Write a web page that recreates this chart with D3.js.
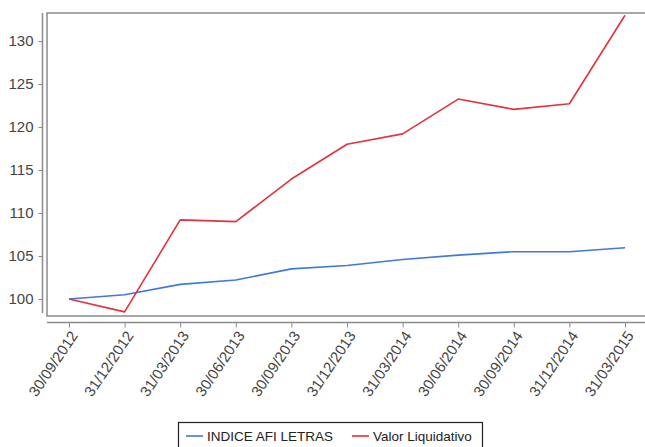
<!DOCTYPE html>
<html>
<head>
<meta charset="utf-8">
<script src="https://cdn.jsdelivr.net/npm/d3@7"></script>
<style>
  html, body { margin: 0; padding: 0; background: #fff; overflow: hidden; }
  svg { display: block; font-family: 'Liberation Sans', Arial, sans-serif; }
</style>
</head>
<body>
<svg width="645" height="447"></svg>
<script>
const dates = ['30/09/2012', '31/12/2012', '31/03/2013', '30/06/2013', '30/09/2013', '31/12/2013',
  '31/03/2014', '30/06/2014', '30/09/2014', '31/12/2014', '31/03/2015']
const indiceAfi = [100, 100.5, 101.7, 102.2, 103.5, 103.9, 104.6, 105.1, 105.5, 105.5, 105.95]
const valorLiq = [100, 98.5, 109.2, 109.0, 113.95, 118.0, 119.2, 123.25, 122.05, 122.7, 133.0]
const yTicks = [100, 105, 110, 115, 120, 125, 130]

const series = [
  { name: 'INDICE AFI LETRAS', values: indiceAfi, color: '#3f78de' },
  { name: 'Valor Liquidativo', values: valorLiq, color: '#e4323d' },
]

const svg = d3.select('svg')
const plot = { left: 47, top: 13, right: 700, bottom: 316 }

const x = d3.scalePoint().domain(dates).range([69, 625])
const y = d3.scaleLinear().domain([98.02, 133.26]).range([plot.bottom, plot.top])

// plot border
svg.append('rect')
  .attr('x', plot.left).attr('y', plot.top)
  .attr('width', plot.right - plot.left).attr('height', plot.bottom - plot.top)
  .attr('fill', 'none').attr('stroke', '#8a8a8a').attr('stroke-width', 1.5)

// y axis (offset from plot)
const yAxis = svg.append('g')
  .attr('transform', 'translate(42.5,0)')
  .call(d3.axisLeft(y).tickValues(yTicks).tickSize(4).tickPadding(5).tickSizeOuter(0))
yAxis.select('.domain').attr('stroke', '#8a8a8a').attr('stroke-width', 1.5)
  .attr('d', `M0,${plot.top}V${plot.bottom - 3}`)
yAxis.selectAll('.tick line').attr('stroke', '#8a8a8a')
yAxis.selectAll('.tick text').attr('fill', '#444').style('font-size', '15px')
  .style('font-family', "'Liberation Sans', Arial, sans-serif")

// x axis (offset from plot)
const xAxis = svg.append('g')
  .attr('transform', 'translate(0,322.5)')
  .call(d3.axisBottom(x).tickSize(5).tickSizeOuter(0))
xAxis.select('.domain').attr('stroke', '#8a8a8a').attr('stroke-width', 1.5)
  .attr('d', `M${plot.left},0H${plot.right}`)
xAxis.selectAll('.tick line').attr('stroke', '#8a8a8a')
xAxis.selectAll('.tick text')
  .attr('fill', '#444').style('font-size', '15px')
  .style('font-family', "'Liberation Sans', Arial, sans-serif")
  .attr('text-anchor', 'end')
  .attr('dy', null).attr('y', 0)
  .attr('transform', 'translate(9,13) rotate(-56)')

// lines
const line = d3.line().x((d, i) => x(dates[i])).y(d => y(d))
svg.append('g').selectAll('path')
  .data(series)
  .join('path')
  .attr('d', d => line(d.values))
  .attr('fill', 'none')
  .attr('stroke', d => d.color)
  .attr('stroke-width', 1.6)
  .attr('stroke-linejoin', 'round')

// legend
const legend = svg.append('g').attr('transform', 'translate(178,422)')
legend.append('rect')
  .attr('x', 0.5).attr('y', 0.5).attr('width', 304).attr('height', 28)
  .attr('fill', '#fff').attr('stroke', '#222').attr('stroke-width', 1.2)
const legendX = [8, 174]
const item = legend.selectAll('g.item').data(series).join('g')
  .attr('class', 'item')
  .attr('transform', (d, i) => `translate(${legendX[i]},0)`)
item.append('line')
  .attr('x1', 0).attr('x2', 17)
  .attr('y1', 14).attr('y2', 14)
  .attr('stroke', d => d.color).attr('stroke-width', 1.6)
item.append('text')
  .attr('x', 21).attr('y', 18.5)
  .attr('fill', '#222').style('font-size', '13.5px')
  .text(d => d.name)
</script>
</body>
</html>
